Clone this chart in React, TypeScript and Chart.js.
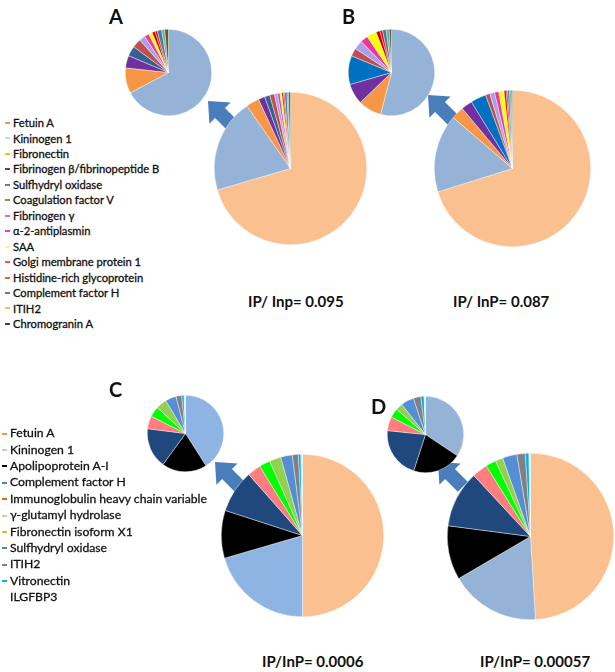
import React, { useEffect, useRef } from "react";
import { Chart, registerables } from "chart.js";
Chart.register(...registerables);

// ---------- Data ----------
const proteinsAB = [
  "Fetuin A",
  "Kininogen 1",
  "Fibronectin",
  "Fibrinogen β/fibrinopeptide B",
  "Sulfhydryl oxidase",
  "Coagulation factor V",
  "Fibrinogen γ",
  "α-2-antiplasmin",
  "SAA",
  "Golgi membrane protein 1",
  "Histidine-rich glycoprotein",
  "Complement factor H",
  "ITIH2",
  "Chromogranin A",
];
const valuesA = [70.3, 19.8, 2.8, 1.37, 1.11, 0.99, 0.66, 0.5, 0.41, 0.33, 0.25, 0.5, 0.33, 0.41];
const valuesB = [70, 16.1, 2.6, 2.3, 3.2, 0.9, 1.0, 0.85, 1.1, 0.42, 0.3, 0.42, 0.33, 0.25];
const pieColorsA = ["#FAC090", "#95B3D7", "#F79646", "#7030A0", "#376092", "#C0504D", "#A7A0EE", "#F0369A", "#FFFF00", "#C00000", "#FF0000", "#31859C", "#8C9C9C", "#4F6228"];
const pieColorsB = ["#FAC090", "#95B3D7", "#F79646", "#7030A0", "#0070C0", "#C0504D", "#A7A0EE", "#F0369A", "#FFFF00", "#C00000", "#FF0000", "#31859C", "#8C9C9C", "#4F6228"];
const legendColorsAB = ["#F79646", "#C6D9F1", "#FFC000", "#7030A0", "#4F81BD", "#948A54", "#CC66FF", "#FF33CC", "#FFFF66", "#FF5050", "#E46C0A", "#4F81BD", "#C8D850", "#1F497D"];

const proteinsCD = [
  "Fetuin A",
  "Kininogen 1",
  "Apolipoprotein A-I",
  "Complement factor H",
  "Immunoglobulin heavy chain variable",
  "γ-glutamyl hydrolase",
  "Fibronectin isoform X1",
  "Sulfhydryl oxidase",
  "ITIH2",
  "Vitronectin",
  "ILGFBP3",
];
const valuesC = [50, 20.5, 9.5, 8.5, 2.7, 2.2, 2.3, 2.3, 1.2, 0.5, 0.3];
const valuesD = [49, 17.5, 10.5, 11, 3, 2, 1.5, 2.8, 1.6, 0.7, 0.3];
const pieColorsC = ["#FAC090", "#8DB4E2", "#000000", "#1F497D", "#FF7C80", "#00FF00", "#92D050", "#558ED5", "#808080", "#00B0F0", "#DDEBF7"];
const pieColorsD = ["#FAC090", "#95B3D7", "#000000", "#1F497D", "#FF7C80", "#00FF00", "#92D050", "#558ED5", "#808080", "#00B0F0", "#DDEBF7"];
const legendColorsCD = ["#F79646", "#B9CDE5", "#000000", "#4F81BD", "#E46C0A", "#C3D69B", "#C9C33A", "#4F81BD", "#7F7F7F", "#00B0F0", "transparent"];

const panelLetters = ["A", "B", "C", "D"];
const ratioLabels = ["IP/ Inp= 0.095", "IP/ InP= 0.087", "IP/InP= 0.0006", "IP/InP= 0.00057"];

// ---------- Components ----------
const FONT = "Lato, 'Open Sans', sans-serif";

function PieChart({ labels, values, colors, cx, cy, r }: any) {
  const ref = useRef<HTMLCanvasElement>(null);
  useEffect(() => {
    const chart = new Chart(ref.current as HTMLCanvasElement, {
      type: "pie",
      data: {
        labels,
        datasets: [
          {
            data: values,
            backgroundColor: colors,
            borderColor: "rgba(255,255,255,0.8)",
            borderWidth: 0.5,
          },
        ],
      },
      options: {
        responsive: false,
        maintainAspectRatio: false,
        animation: false,
        events: [],
        layout: { padding: 0 },
        plugins: { legend: { display: false }, tooltip: { enabled: false } },
      } as any,
    });
    return () => chart.destroy();
  }, []);
  const size = Math.round(2 * r + 1);
  return (
    <canvas
      ref={ref}
      width={size}
      height={size}
      style={{ position: "absolute", left: cx - size / 2, top: cy - size / 2, width: size, height: size }}
    />
  );
}

function Txt({ x, baseline, size, bold, stroke, children }: any) {
  return (
    <div
      style={{
        position: "absolute",
        left: x,
        top: baseline - 0.887 * size,
        fontSize: size,
        lineHeight: `${size}px`,
        fontWeight: bold ? 700 : 400,
        whiteSpace: "nowrap",
        color: "#111",
        fontFamily: FONT,
        WebkitTextStroke: stroke ? `${stroke}px #111` : undefined,
      }}
    >
      {children}
    </div>
  );
}

function Legend({ names, colors, x, dashX, baseline0, step, size }: any) {
  return (
    <>
      {names.map((n: string, i: number) => {
        const b = baseline0 + i * step;
        return (
          <React.Fragment key={i}>
            <div
              style={{
                position: "absolute",
                left: dashX,
                top: b - 0.36 * size - 1,
                width: 5,
                height: 2,
                background: colors[i],
              }}
            />
            <Txt x={x} baseline={b} size={size} stroke={0.3}>
              {n}
            </Txt>
          </React.Fragment>
        );
      })}
    </>
  );
}

function arrowPts(tx: number, ty: number, angDeg: number) {
  const a = (angDeg * Math.PI) / 180;
  const dx = Math.cos(a), dy = Math.sin(a);
  const px = -dy, py = dx;
  const headLen = 17, headHalf = 15, shaftHalf = 7, shaftLen = 18;
  const P = (l: number, w: number) => `${tx + dx * l + px * w},${ty + dy * l + py * w}`;
  return [P(0, 0), P(headLen, headHalf), P(headLen, shaftHalf), P(headLen + shaftLen, shaftHalf), P(headLen + shaftLen, -shaftHalf), P(headLen, -shaftHalf), P(headLen, -headHalf)].join(" ");
}

export default function App() {
  return (
    <div
      style={{
        position: "absolute",
        left: 0,
        top: 0,
        width: 615,
        height: 672,
        background: "#fff",
        overflow: "hidden",
        fontFamily: FONT,
      }}
    >
      <svg width={615} height={672} style={{ position: "absolute", left: 0, top: 0 }}>
        <polygon points={arrowPts(208, 101, 45)} fill="#4A7EBB" />
        <polygon points={arrowPts(428, 95, 45)} fill="#4A7EBB" />
        <polygon points={arrowPts(215, 462, 45)} fill="#4A7EBB" />
        <polygon points={arrowPts(438, 462, 45)} fill="#4A7EBB" />
      </svg>

      {/* Panel A */}
      <PieChart labels={proteinsAB} values={valuesA} colors={pieColorsA} cx={290} cy={168} r={76} />
      <PieChart labels={proteinsAB.slice(1)} values={valuesA.slice(1)} colors={pieColorsA.slice(1)} cx={168} cy={72} r={43} />
      {/* Panel B */}
      <PieChart labels={proteinsAB} values={valuesB} colors={pieColorsB} cx={512} cy={168} r={78} />
      <PieChart labels={proteinsAB.slice(1)} values={valuesB.slice(1)} colors={pieColorsB.slice(1)} cx={391} cy={72} r={43} />
      {/* Panel C */}
      <PieChart labels={proteinsCD} values={valuesC} colors={pieColorsC} cx={302} cy={535} r={81} />
      <PieChart labels={proteinsCD.slice(1)} values={valuesC.slice(1)} colors={pieColorsC.slice(1)} cx={185} cy={433} r={38} />
      {/* Panel D */}
      <PieChart labels={proteinsCD} values={valuesD} colors={pieColorsD} cx={530} cy={536} r={83} />
      <PieChart labels={proteinsCD.slice(1)} values={valuesD.slice(1)} colors={pieColorsD.slice(1)} cx={425} cy={434} r={38} />

      <Txt x={109} baseline={24} size={20} bold>{panelLetters[0]}</Txt>
      <Txt x={342} baseline={24} size={20} bold>{panelLetters[1]}</Txt>
      <Txt x={109} baseline={397} size={20} bold>{panelLetters[2]}</Txt>
      <Txt x={371} baseline={414} size={20} bold>{panelLetters[3]}</Txt>

      <Txt x={248} baseline={307} size={15} bold>{ratioLabels[0]}</Txt>
      <Txt x={453} baseline={307} size={15} bold>{ratioLabels[1]}</Txt>
      <Txt x={262} baseline={667} size={15} bold>{ratioLabels[2]}</Txt>
      <Txt x={480} baseline={667} size={15} bold>{ratioLabels[3]}</Txt>

      <Legend names={proteinsAB} colors={legendColorsAB} x={13} dashX={5} baseline0={127} step={15.46} size={11.2} />
      <Legend names={proteinsCD} colors={legendColorsCD} x={10} dashX={2} baseline0={438} step={16.4} size={12.2} />
    </div>
  );
}
